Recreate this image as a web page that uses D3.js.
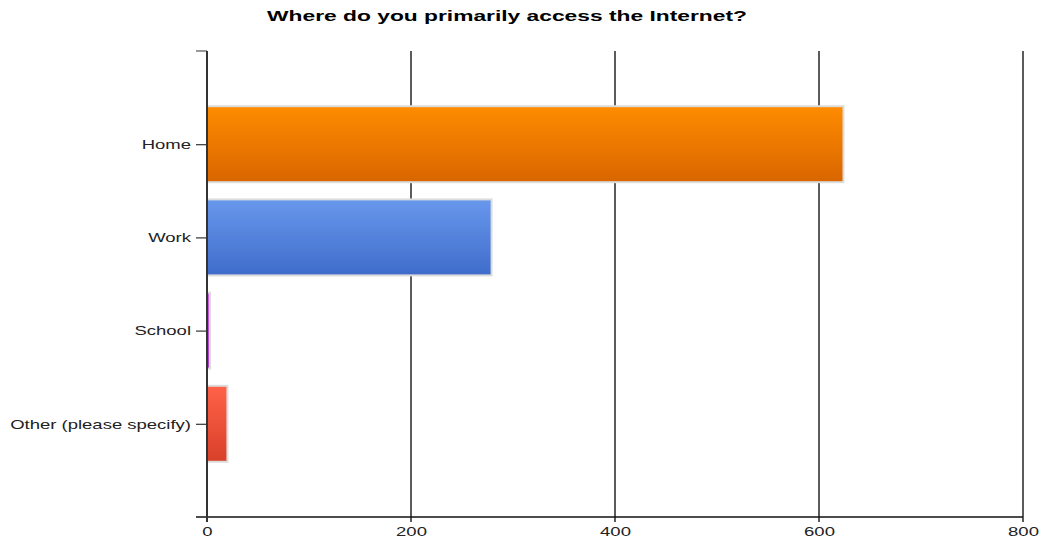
<!DOCTYPE html>
<html>
<head>
<meta charset="utf-8">
<script src="https://cdn.jsdelivr.net/npm/d3@7"></script>
<style>
  html, body { margin: 0; padding: 0; background: #fff; }
  svg { display: block; font-family: "Liberation Sans", Arial, sans-serif; }
</style>
</head>
<body>
<svg id="chart" width="1047" height="542"></svg>
<script>
// Survey answers and response counts
const categories = ["Home", "Work", "School", "Other (please specify)"];
const counts = [624, 279, 3, 20];
const xTicks = [0, 200, 400, 600, 800];
const title = "Where do you primarily access the Internet?";

// Gradient stops (top, bottom) per bar
const barTop = ["#ff8c00", "#6898ec", "#d35ee8", "#ff6248"];
const barBottom = ["#d96500", "#3f6ccb", "#b03bd0", "#d9402a"];

// Text is drawn horizontally widened
const textStretch = 1.37;
const titleStretch = 1.52;

const svg = d3.select("#chart");
const margin = { left: 207, right: 24, top: 51, bottom: 25 };
const W = 1047, H = 542;

const x = d3.scaleLinear().domain([0, 800]).range([margin.left, W - margin.right]);
const y = d3.scalePoint().domain(categories).range([margin.top, H - margin.bottom]).padding(1);
const barH = 76;

const defs = svg.append("defs");
categories.forEach((c, i) => {
  const g = defs.append("linearGradient").attr("id", "grad" + i)
    .attr("x1", 0).attr("y1", 0).attr("x2", 0).attr("y2", 1);
  g.append("stop").attr("offset", "0%").attr("stop-color", barTop[i]);
  g.append("stop").attr("offset", "100%").attr("stop-color", barBottom[i]);
});

// Title
svg.append("text")
  .attr("transform", `translate(507,21) scale(${titleStretch},1)`)
  .attr("text-anchor", "middle")
  .attr("font-size", 15).attr("font-weight", "bold")
  .attr("fill", "#000")
  .text(title);

// Vertical grid lines at each tick (except zero)
const y0 = margin.top, y1 = H - margin.bottom;
svg.append("g").selectAll("line")
  .data(xTicks.slice(1))
  .join("line")
  .attr("x1", d => x(d)).attr("x2", d => x(d))
  .attr("y1", y0).attr("y2", y1 + 5)
  .attr("stroke", "#333").attr("stroke-width", 1.6);

// Bars with light border
svg.append("g").selectAll("rect")
  .data(categories)
  .join("rect")
  .attr("x", x(0))
  .attr("y", d => y(d) - barH / 2)
  .attr("width", (d, i) => Math.max(2, x(counts[i]) - x(0)))
  .attr("height", barH)
  .attr("fill", (d, i) => `url(#grad${i})`)
  .attr("stroke", "#dcdcdc").attr("stroke-width", 2);

// Widen axis labels about their anchor point
function stretchLabels(sel) {
  sel.each(function () {
    const t = d3.select(this);
    const tx = +t.attr("x") || 0;
    t.attr("x", tx / textStretch).attr("transform", `scale(${textStretch},1)`);
  });
}

// Bottom axis: baseline and labels
const xAxis = d3.axisBottom(x).tickValues(xTicks).tickSize(0).tickPadding(9);
const gx = svg.append("g").attr("transform", `translate(0,${y1})`).call(xAxis);
gx.select(".domain").remove();
gx.selectAll("text").attr("font-size", 13.5).attr("fill", "#222")
  .attr("font-family", "Liberation Sans, Arial, sans-serif")
  .call(stretchLabels);
svg.append("line")
  .attr("x1", x(0) - 11).attr("x2", x(800))
  .attr("y1", y1).attr("y2", y1)
  .attr("stroke", "#111").attr("stroke-width", 1.4);

// Left axis with category labels
const yAxis = d3.axisLeft(y).tickSize(11).tickPadding(5);
const gy = svg.append("g").attr("transform", `translate(${x(0)},0)`).call(yAxis);
gy.select(".domain").remove();
gy.selectAll(".tick line").attr("stroke", "#333").attr("stroke-width", 1.2);
gy.selectAll("text").attr("font-size", 13.5).attr("fill", "#222")
  .attr("font-family", "Liberation Sans, Arial, sans-serif")
  .call(stretchLabels);

// Top tick of the category axis
svg.append("line")
  .attr("x1", x(0) - 11).attr("x2", x(0))
  .attr("y1", y0).attr("y2", y0)
  .attr("stroke", "#777").attr("stroke-width", 1.5);

// Zero line
svg.append("line")
  .attr("x1", x(0)).attr("x2", x(0))
  .attr("y1", y0).attr("y2", y1 + 5)
  .attr("stroke", "#333").attr("stroke-width", 2);
</script>
</body>
</html>
